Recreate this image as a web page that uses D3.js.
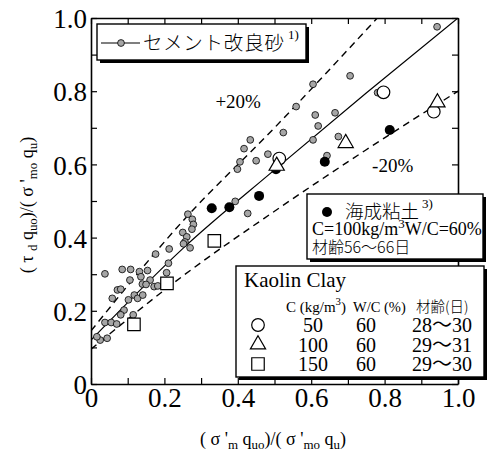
<!DOCTYPE html>
<html>
<head>
<meta charset="utf-8">
<script src="https://cdn.jsdelivr.net/npm/d3@7"></script>
<style>
    body { margin: 0; background: #fff; }
    svg text { font-family: "Liberation Serif", "Times New Roman", "Noto Sans CJK JP", serif; fill: #000; }
    .jp { font-family: "Noto Sans CJK JP", sans-serif; font-weight: 300; }
</style>
</head>
<body>
<div id="chart" style="width:497px;height:453px"></div>
<script>

// cement improved sand (grey dots), [x, y]
const sandPoints = [
    [0.706, 0.842], [0.605, 0.819], [0.781, 0.796], [0.559, 0.758], [0.611, 0.735],
    [0.665, 0.741], [0.619, 0.705], [0.524, 0.687], [0.434, 0.667], [0.417, 0.643],
    [0.605, 0.667], [0.674, 0.676], [0.406, 0.607], [0.399, 0.587], [0.450, 0.610],
    [0.482, 0.628], [0.643, 0.624], [0.393, 0.499], [0.427, 0.466], [0.943, 0.976],
    [0.264, 0.464], [0.276, 0.450], [0.279, 0.436], [0.275, 0.423], [0.250, 0.414],
    [0.261, 0.402], [0.256, 0.388], [0.252, 0.383], [0.270, 0.372], [0.213, 0.369],
    [0.176, 0.355], [0.211, 0.330], [0.206, 0.304], [0.038, 0.301], [0.085, 0.313],
    [0.108, 0.313], [0.132, 0.307], [0.154, 0.310], [0.136, 0.293], [0.106, 0.284],
    [0.161, 0.284], [0.140, 0.273], [0.150, 0.272], [0.172, 0.266], [0.182, 0.268],
    [0.072, 0.257], [0.081, 0.259], [0.058, 0.234], [0.118, 0.243], [0.127, 0.234],
    [0.141, 0.243], [0.102, 0.230], [0.090, 0.202], [0.081, 0.189], [0.115, 0.189],
    [0.038, 0.168], [0.055, 0.168], [0.070, 0.164], [0.025, 0.120], [0.044, 0.125],
    [0.016, 0.129]
];

// marine clay (black dots)
const clayPoints = [
    [0.329, 0.480], [0.377, 0.483], [0.458, 0.514], [0.504, 0.587], [0.637, 0.607], [0.814, 0.694]
];

// kaolin clay, C = 50 / 100 / 150
const kaolinCircles = [[0.513, 0.616], [0.797, 0.797], [0.934, 0.744]];
const kaolinTriangles = [[0.506, 0.596], [0.694, 0.658], [0.944, 0.769]];
const kaolinSquares = [[0.336, 0.391], [0.207, 0.275], [0.117, 0.163]];

// fitted line and +-20% bands
const meanLine = [[0, 0.12], [0.25, 0.37], [0.5, 0.585], [0.75, 0.795], [1.0, 1.0]];
const upperLine = [[0, 0.145], [0.25, 0.445], [0.5, 0.70], [0.78, 1.0]];
const lowerLine = [[0, 0.095], [0.25, 0.295], [0.5, 0.472], [0.75, 0.64], [1.0, 0.80]];

const tickValues = d3.range(11).map(i => i / 10);
const tickLabels = ["0", "0.2", "0.4", "0.6", "0.8", "1.0"];

const kaolinCement = ["50", "100", "150"];
const kaolinWC = ["60", "60", "60"];
const kaolinAge = ["28～30", "29～31", "29～30"];


class RatioVis {

    constructor(parentElement) {
        this.parentElement = parentElement;
        this.initVis();
    }

    initVis() {
        let vis = this;

        // margin conventions
        vis.margin = {top: 18, right: 39, bottom: 69, left: 91};
        vis.width = 497 - vis.margin.left - vis.margin.right;
        vis.height = 453 - vis.margin.top - vis.margin.bottom;

        vis.root = d3.select("#" + vis.parentElement).append("svg")
            .attr("width", 497)
            .attr("height", 453);

        vis.svg = vis.root.append("g")
            .attr("transform", `translate(${vis.margin.left}, ${vis.margin.top})`);

        vis.x = d3.scaleLinear().domain([0, 1]).range([0, vis.width]);
        vis.y = d3.scaleLinear().domain([0, 1]).range([vis.height, 0]);

        vis.svg.append("clipPath").attr("id", "plotClip")
            .append("rect")
            .attr("width", vis.width)
            .attr("height", vis.height);

        vis.drawAxes();
        vis.drawLines();
        vis.drawPoints();
        vis.drawLegends();
    }

    drawAxes() {
        let vis = this;

        let fmt = d => {
            let i = Math.round(d * 10);
            return i % 2 === 0 ? tickLabels[i / 2] : "";
        };

        let styleAxis = g => {
            g.select(".domain").attr("stroke-width", 1.6);
            g.selectAll(".tick line").attr("stroke-width", 1.2);
            g.selectAll(".tick text")
                .attr("font-family", null)
                .style("font-size", "27px");
        };

        vis.svg.append("g")
            .attr("transform", `translate(0, ${vis.height})`)
            .call(d3.axisBottom(vis.x).tickValues(tickValues).tickFormat(fmt)
                .tickSizeInner(-6).tickSizeOuter(0).tickPadding(4))
            .call(styleAxis);

        vis.svg.append("g")
            .call(d3.axisLeft(vis.y).tickValues(tickValues).tickFormat(fmt)
                .tickSizeInner(-6).tickSizeOuter(0).tickPadding(4))
            .call(styleAxis)
            .selectAll(".tick text").attr("dy", "0.36em");

        vis.svg.append("g")
            .call(d3.axisTop(vis.x).tickValues(tickValues).tickFormat("")
                .tickSizeInner(-6).tickSizeOuter(0))
            .call(styleAxis);

        vis.svg.append("g")
            .attr("transform", `translate(${vis.width}, 0)`)
            .call(d3.axisRight(vis.y).tickValues(tickValues).tickFormat("")
                .tickSizeInner(-6).tickSizeOuter(0))
            .call(styleAxis);

        // axis titles
        let xTitle = vis.root.append("text")
            .attr("x", 273)
            .attr("y", 445)
            .attr("text-anchor", "middle")
            .style("font-size", "18px");
        vis.subText(xTitle, [["( σ '", 0], ["m", 1], [" q", 0], ["uo", 1], [")/( σ '", 0], ["mo", 1], [" q", 0], ["u", 1], [")", 0]]);

        let yTitle = vis.root.append("text")
            .attr("transform", "translate(33, 205) rotate(-90)")
            .attr("text-anchor", "middle")
            .style("font-size", "18px");
        vis.subText(yTitle, [["( τ ", 0], ["d", 1], [" q", 0], ["uo", 1], [")/( σ '", 0], ["mo", 1], [" q", 0], ["u", 1], [")", 0]]);
    }

    // parts: [text, 0 normal | 1 subscript | -1 superscript]
    subText(el, parts) {
        let shift = 0;
        parts.forEach(([t, k]) => {
            let target = k === 1 ? 4 : (k === -1 ? -7 : 0);
            el.append("tspan")
                .attr("dy", target - shift)
                .style("font-size", k === 0 ? null : "0.72em")
                .text(t);
            shift = target;
        });
    }

    drawLines() {
        let vis = this;

        let line = d3.line()
            .x(d => vis.x(d[0]))
            .y(d => vis.y(d[1]))
            .curve(d3.curveMonotoneX);

        let lines = vis.svg.append("g").attr("clip-path", "url(#plotClip)");

        lines.append("path")
            .attr("d", line(meanLine))
            .attr("fill", "none")
            .attr("stroke", "black")
            .attr("stroke-width", 1.2);

        [upperLine, lowerLine].forEach(l => {
            lines.append("path")
                .attr("d", line(l))
                .attr("fill", "none")
                .attr("stroke", "black")
                .attr("stroke-width", 1.4)
                .attr("stroke-dasharray", "7,5");
        });

        vis.svg.append("text")
            .attr("x", vis.x(0.339)).attr("y", vis.y(0.755))
            .style("font-size", "19px")
            .text("+20%");

        vis.svg.append("text")
            .attr("x", vis.x(0.766)).attr("y", vis.y(0.58))
            .style("font-size", "19px")
            .text("-20%");
    }

    drawPoints() {
        let vis = this;

        vis.svg.append("g").selectAll("circle")
            .data(sandPoints)
            .enter().append("circle")
                .attr("cx", d => vis.x(d[0]))
                .attr("cy", d => vis.y(d[1]))
                .attr("r", 3.4)
                .attr("fill", "#a6a6a6")
                .attr("stroke", "black")
                .attr("stroke-width", 0.8);

        vis.svg.append("g").selectAll("circle")
            .data(clayPoints)
            .enter().append("circle")
                .attr("cx", d => vis.x(d[0]))
                .attr("cy", d => vis.y(d[1]))
                .attr("r", 5)
                .attr("fill", "black");

        let kaolin = [
            {data: kaolinCircles, symbol: d3.symbolCircle, size: 125},
            {data: kaolinTriangles, symbol: d3.symbolTriangle, size: 100},
            {data: kaolinSquares, symbol: d3.symbolSquare, size: 156}
        ];
        vis.kaolin = kaolin;

        kaolin.forEach(k => {
            vis.svg.append("g").selectAll("path")
                .data(k.data)
                .enter().append("path")
                    .attr("transform", d => `translate(${vis.x(d[0])}, ${vis.y(d[1])})`)
                    .attr("d", d3.symbol().type(k.symbol).size(k.size))
                    .attr("fill", "white")
                    .attr("stroke", "black")
                    .attr("stroke-width", 1.2);
        });
    }

    box(x, y, w, h) {
        let vis = this;
        let g = vis.root.append("g").attr("transform", `translate(${x}, ${y})`);
        g.append("rect")
            .attr("x", 3).attr("y", 3)
            .attr("width", w).attr("height", h)
            .attr("fill", "black");
        g.append("rect")
            .attr("width", w).attr("height", h)
            .attr("fill", "white")
            .attr("stroke", "black")
            .attr("stroke-width", 1.4);
        return g;
    }

    drawLegends() {
        let vis = this;

        // cement improved sand
        let l1 = vis.box(97, 24, 209, 36);
        l1.append("line")
            .attr("x1", 4).attr("x2", 43)
            .attr("y1", 19).attr("y2", 19)
            .attr("stroke", "black").attr("stroke-width", 1.2);
        l1.append("circle")
            .attr("cx", 24).attr("cy", 19).attr("r", 3.4)
            .attr("fill", "#a6a6a6").attr("stroke", "black").attr("stroke-width", 0.8);
        l1.append("text")
            .attr("class", "jp")
            .attr("x", 46).attr("y", 26)
            .attr("textLength", 141)
            .attr("lengthAdjust", "spacing")
            .style("font-size", "19.5px")
            .text("セメント改良砂");
        l1.append("text")
            .attr("x", 191).attr("y", 15)
            .style("font-size", "13px")
            .text("1)");

        // marine clay
        let l2 = vis.box(307, 194, 176, 65);
        l2.append("circle")
            .attr("cx", 20).attr("cy", 18).attr("r", 5)
            .attr("fill", "black");
        l2.append("text")
            .attr("class", "jp")
            .attr("x", 38).attr("y", 24)
            .attr("textLength", 74)
            .attr("lengthAdjust", "spacing")
            .style("font-size", "18.5px")
            .text("海成粘土");
        l2.append("text")
            .attr("x", 115).attr("y", 14)
            .style("font-size", "13px")
            .text("3)");
        let cLine = l2.append("text")
            .attr("x", 5).attr("y", 41)
            .style("font-size", "18px");
        vis.subText(cLine, [["C=100kg/m", 0], ["3", -1], ["W/C=60%", 0]]);
        l2.append("text")
            .attr("class", "jp")
            .attr("x", 5).attr("y", 59)
            .style("font-size", "16px")
            .text("材齢56～66日");

        // kaolin clay
        let l3 = vis.box(236, 266, 248, 111);
        l3.append("text")
            .attr("x", 8).attr("y", 21)
            .style("font-size", "21px")
            .text("Kaolin Clay");

        let head = l3.append("text")
            .attr("x", 50).attr("y", 46)
            .style("font-size", "15px");
        vis.subText(head, [["C (kg/m", 0], ["3", -1], [")", 0]]);
        l3.append("text")
            .attr("x", 117).attr("y", 46)
            .style("font-size", "14.5px")
            .text("W/C (%)");
        l3.append("text")
            .attr("class", "jp")
            .attr("x", 180).attr("y", 46)
            .style("font-size", "14.5px")
            .text("材齢(日)");

        vis.kaolin.forEach((k, i) => {
            let cy = 59 + i * 19.5;
            l3.append("path")
                .attr("transform", `translate(22, ${cy})`)
                .attr("d", d3.symbol().type(k.symbol).size(k.size))
                .attr("fill", "white")
                .attr("stroke", "black")
                .attr("stroke-width", 1.2);
            l3.append("text")
                .attr("x", 77).attr("y", cy + 7)
                .attr("text-anchor", "middle")
                .style("font-size", "20px")
                .text(kaolinCement[i]);
            l3.append("text")
                .attr("x", 130).attr("y", cy + 7)
                .attr("text-anchor", "middle")
                .style("font-size", "20px")
                .text(kaolinWC[i]);
            l3.append("text")
                .attr("x", 206).attr("y", cy + 7)
                .attr("text-anchor", "middle")
                .style("font-size", "20px")
                .text(kaolinAge[i]);
        });
    }
}

new RatioVis("chart");

</script>
</body>
</html>
